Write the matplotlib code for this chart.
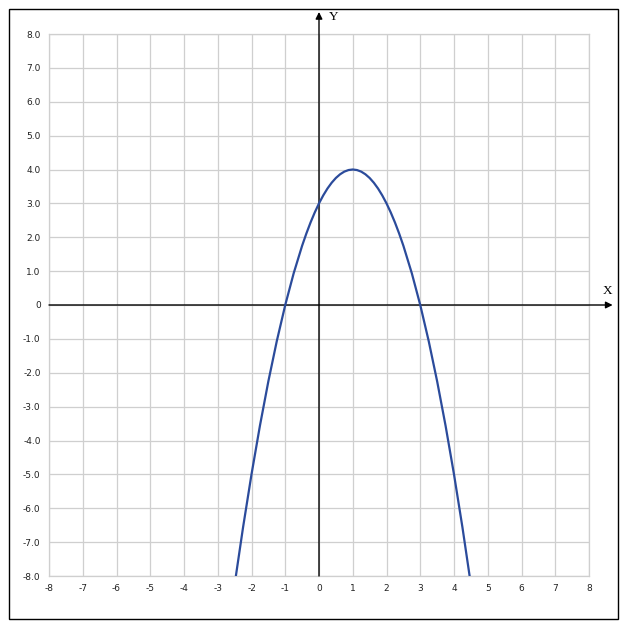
import matplotlib
matplotlib.use('Agg')
from matplotlib import pyplot as plt
from matplotlib.patches import Rectangle

# points
x_vals = [-2.5, -2.25, -2.0, -1.75, -1.5, -1.25, -1.0, -0.75, -0.5, -0.375, -0.25, -0.125, 0.0,
          0.125, 0.25, 0.375, 0.5, 0.625, 0.75, 0.875, 1.0, 1.125, 1.25, 1.375, 1.5,
          1.625, 1.75, 1.875, 2.0, 2.125, 2.25, 2.375, 2.5, 2.75, 3.0,
          3.25, 3.5, 3.75, 4.0, 4.25, 4.5]
y_vals = [-8.25, -6.5625, -5.0, -3.5625, -2.25, -1.0625, 0.0, 0.9375, 1.75, 2.109, 2.4375, 2.734, 3.0,
          3.234, 3.4375, 3.609, 3.75, 3.859, 3.9375, 3.984, 4.0, 3.984, 3.9375, 3.859, 3.75,
          3.609, 3.4375, 3.234, 3.0, 2.734, 2.4375, 2.109, 1.75, 0.9375, 0.0,
          -1.0625, -2.25, -3.5625, -5.0, -6.5625, -8.25]

x_ticks = list(range(-8, 9))
y_ticks = list(range(-8, 9))
y_tick_labels = ["0" if v == 0 else "%.1f" % v for v in y_ticks]

fig = plt.figure(figsize=(6.27, 6.30), dpi=100)
ax = fig.add_axes([49 / 627, 1 - 576 / 630, 540 / 627, 542 / 630])

ax.set_xlim(-8, 8)
ax.set_ylim(-8, 8)
ax.set_xticks(x_ticks)
ax.set_xticklabels([str(v) for v in x_ticks])
ax.set_yticks(y_ticks)
ax.set_yticklabels(y_tick_labels)
ax.grid(True, color='#cfcfcf', linewidth=0.9)
ax.set_axisbelow(True)
for s in ax.spines.values():
    s.set_color('#cfcfcf')
    s.set_linewidth(0.9)
ax.tick_params(length=0, labelsize=6.5, pad=6, colors='#222222')

# axes with arrows
ax.annotate('', xy=(8.7, 0), xytext=(-8, 0), annotation_clip=False,
            arrowprops=dict(arrowstyle='-|>', color='black', lw=1.0,
                            mutation_scale=10, shrinkA=0, shrinkB=0))
ax.annotate('', xy=(0, 8.65), xytext=(0, -8), annotation_clip=False,
            arrowprops=dict(arrowstyle='-|>', color='black', lw=1.0,
                            mutation_scale=10, shrinkA=0, shrinkB=0))
ax.text(8.55, 0.42, 'X', family='Liberation Serif', fontsize=9.5, ha='center', va='center', clip_on=False)
ax.text(0.42, 8.5, 'Y', family='Liberation Serif', fontsize=9.5, ha='center', va='center', clip_on=False)

ax.plot(x_vals, y_vals, color='#2b4b9b', linewidth=1.6, zorder=3)

fig.patches.append(Rectangle((9 / 627, 1 - 619 / 630), 609 / 627, 610 / 630,
                             transform=fig.transFigure, fill=False,
                             edgecolor='black', linewidth=1.0))

plt.savefig('out.png', dpi=100)
